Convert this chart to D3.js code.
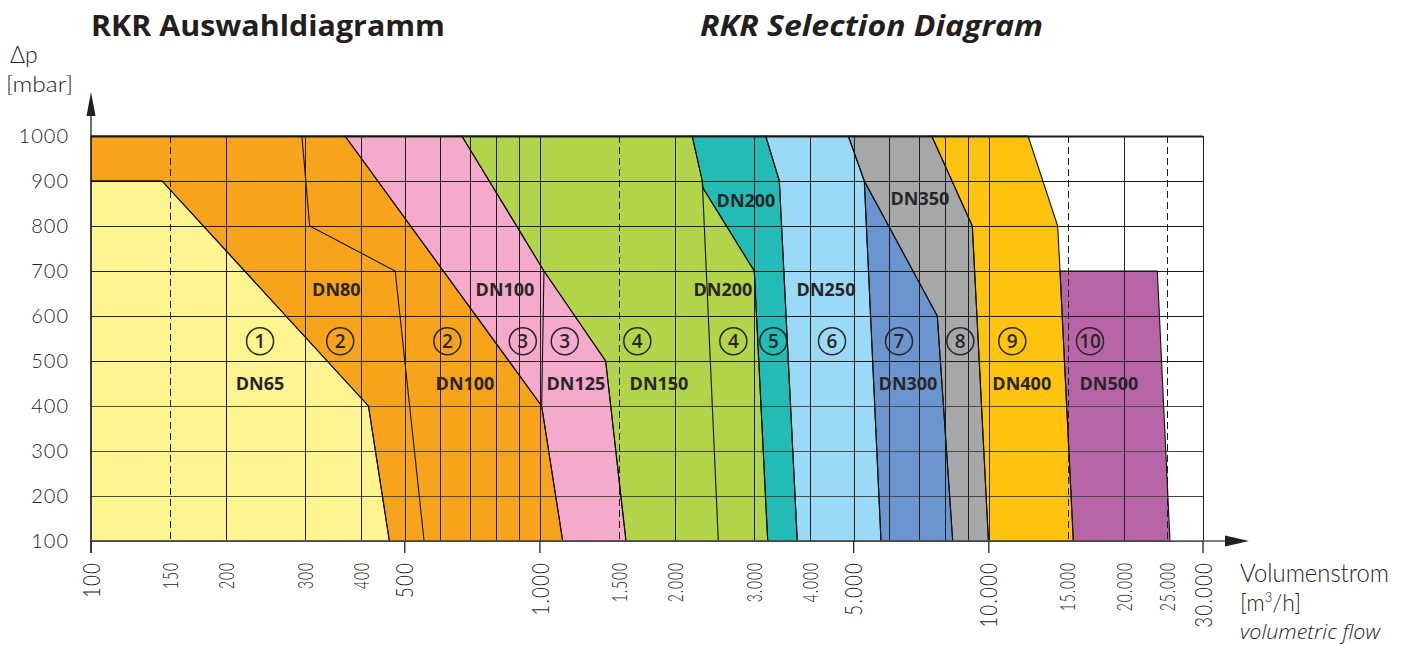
<!DOCTYPE html>
<html>
<head>
<meta charset="utf-8">
<script src="https://cdn.jsdelivr.net/npm/d3@7"></script>
<style>
  html, body { margin: 0; padding: 0; background: #ffffff; }
  svg { display: block; }
</style>
</head>
<body>
<svg id="chart" width="1406" height="646"></svg>
<script>
// ---------------- DATA ----------------
// Zones: polygons as [volumetric flow m3/h, pressure drop mbar]
const zone1DN65      = [[100,100],[100,900],[144,900],[415,400],[462,100]];
const zone2DN80DN100 = [[100,900],[100,1000],[368,1000],[1009,400],[1124,100],[462,100],[415,400],[144,900]];
const zone3DN100DN125= [[368,1000],[670,1000],[1021,700],[1401,500],[1555,100],[1124,100],[1009,400]];
const zone4DN150DN200= [[670,1000],[2184,1000],[2300,900],[2306,885],[3003,700],[3217,100],[1555,100],[1401,500],[1021,700]];
const zone5DN200     = [[2184,1000],[3184,1000],[3415,900],[3744,100],[3217,100],[3003,700],[2306,885],[2300,900]];
const zone6DN250     = [[3184,1000],[4864,1000],[5280,900],[5752,100],[3744,100],[3415,900]];
const zone7DN300     = [[5280,900],[7678,600],[8309,100],[5752,100]];
const zone8DN350     = [[4864,1000],[7460,1000],[9188,800],[9980,100],[8309,100],[7678,600],[5280,900]];
const zone9DN400     = [[7460,1000],[12230,1000],[14236,800],[14407,700],[15425,100],[9980,100],[9188,800]];
const zone10DN500    = [[14407,700],[23735,700],[25327,100],[15425,100]];

const zones = [zone1DN65, zone2DN80DN100, zone3DN100DN125, zone4DN150DN200, zone5DN200,
               zone6DN250, zone7DN300, zone8DN350, zone9DN400, zone10DN500];
const zoneColors = ["#fef591","#f8a31c","#f5aacc","#b2d44b","#22bbb6",
                    "#9bdaf6","#6b95cf","#a6a7a9","#fec30f","#b865a8"];

// Internal divider lines (nominal size changes inside a zone)
const dividerZone2 = [[295,1000],[307,800],[476,700],[552,100]];
const dividerZone3 = [[1021,700],[1009,400]];
const dividerZone4 = [[2300,900],[2497,100]];

// Nominal size labels
const dnLabelFlows = [238, 352, 836, 681, 1203, 1842, 2878, 2557, 4339, 6606, 7025, 11842, 18520];
const dnLabelDp    = [451, 658, 658, 451, 451, 451, 856, 658, 658, 451, 860, 451, 451];
const dnLabelTexts = ["DN65","DN80","DN100","DN100","DN125","DN150","DN200","DN200","DN250","DN300","DN350","DN400","DN500"];

// Zone numbers
const zoneNumFlows = [238, 359, 622, 916, 1136, 1648, 2697, 3311, 4474, 6308, 8639, 11280, 16806];
const zoneNumTexts = ["1","2","2","3","3","4","4","5","6","7","8","9","10"];
const zoneNumDp = 544;

// Axis ticks
const yTicks = [100,200,300,400,500,600,700,800,900,1000];
const xGrid = [150,200,300,400,500,600,700,800,900,1000,1500,2000,3000,4000,5000,6000,7000,8000,9000,10000,15000,20000,25000,30000];
const xDashed = [150,1500,15000,25000];
const xMajorTicks = [100,500,1000,5000,10000,30000];
const xTickValues = [100,150,200,300,400,500,1000,1500,2000,3000,4000,5000,10000,15000,20000,25000,30000];
const xTickLabels = ["100","150","200","300","400","500","1.000","1.500","2.000","3.000","4.000","5.000","10.000","15.000","20.000","25.000","30.000"];

// ---------------- DRAW ----------------
const svg = d3.select("#chart");
const x = d3.scaleLog().domain([100, 30000]).range([91, 1203]);
const y = d3.scaleLinear().domain([100, 1000]).range([541, 136]);
const ink = "#231f20";
const axisFont = "Lato, Roboto, 'DejaVu Sans', sans-serif";
const boldFont = "'Open Sans', 'Noto Sans', sans-serif";

const line = d3.line().x(d => x(d[0])).y(d => y(d[1]));

// fills
svg.append("g").selectAll("path").data(zones).join("path")
  .attr("d", d => line(d) + "Z")
  .attr("fill", (d, i) => zoneColors[i])
  .attr("stroke", "none");

// grid
const grid = svg.append("g").attr("stroke", "#1e1e1e").attr("stroke-width", 1).attr("fill", "none");
grid.selectAll("line.h").data(yTicks).join("line")
  .attr("x1", x(100)).attr("x2", x(30000))
  .attr("y1", d => Math.round(y(d)) + 0.5).attr("y2", d => Math.round(y(d)) + 0.5)
  .attr("stroke-width", d => d === 1000 ? 2 : 1)
  .attr("stroke", d => d <= 400 ? "#4a4a44" : "#1e1e1e");
grid.selectAll("line.v").data(xGrid).join("line")
  .attr("x1", d => Math.round(x(d)) + 0.5).attr("x2", d => Math.round(x(d)) + 0.5)
  .attr("y1", y(1000)).attr("y2", y(100))
  .attr("stroke-dasharray", d => xDashed.includes(d) ? "7,4" : null);

// zone outlines
svg.append("g").selectAll("path").data(zones).join("path")
  .attr("d", d => line(d) + "Z")
  .attr("fill", "none").attr("stroke", "#111").attr("stroke-width", 1.1)
  .attr("stroke-linejoin", "round");

// dividers
svg.append("g").selectAll("path").data([dividerZone2, dividerZone3, dividerZone4]).join("path")
  .attr("d", line).attr("fill", "none").attr("stroke", "#111").attr("stroke-width", 1.1);

// axes lines
const axes = svg.append("g").attr("stroke", ink).attr("stroke-width", 1.3);
axes.append("line").attr("x1", x(100)).attr("x2", x(100)).attr("y1", y(100) + 12).attr("y2", 112);
axes.append("line").attr("x1", x(100)).attr("x2", 1226).attr("y1", y(100)).attr("y2", y(100)).attr("stroke", "#555");
axes.selectAll("line.t").data(xMajorTicks).join("line")
  .attr("x1", d => x(d)).attr("x2", d => x(d)).attr("y1", y(100)).attr("y2", y(100) + 12);
// arrowheads
svg.append("path").attr("d", `M${x(100)},92 L${x(100)-4.5},116 L${x(100)+4.5},116 Z`).attr("fill", ink);
svg.append("path").attr("d", `M1249,${y(100)} L1225,${y(100)-5.5} L1225,${y(100)+5.5} Z`).attr("fill", ink);

// y tick labels
svg.append("g").selectAll("text").data(yTicks).join("text")
  .attr("x", 69).attr("y", d => y(d)).attr("dy", "0.36em")
  .attr("text-anchor", "end")
  .attr("font-family", axisFont).attr("font-weight", 300).attr("font-size", 20)
  .attr("letter-spacing", 1)
  .attr("fill", ink).text(d => d);

// x tick labels (rotated)
svg.append("g").selectAll("text").data(xTickValues).join("text")
  .attr("transform", d => {
    const major = xMajorTicks.includes(d);
    return `translate(${x(d)},562) rotate(-90) scale(${major ? 0.78 : 0.66},1)`;
  })
  .attr("dy", "0.36em")
  .attr("text-anchor", "end")
  .attr("font-family", axisFont).attr("font-weight", 300)
  .attr("font-size", d => xMajorTicks.includes(d) ? 24 : 21)
  .attr("letter-spacing", 1.5)
  .attr("fill", ink)
  .text((d, i) => xTickLabels[i]);

// axis titles
svg.append("text").attr("x", 10).attr("y", 63)
  .attr("font-family", axisFont).attr("font-weight", 300).attr("font-size", 23).attr("fill", ink)
  .text("Δp");
svg.append("text").attr("x", 6).attr("y", 92)
  .attr("font-family", axisFont).attr("font-weight", 300).attr("font-size", 22).attr("fill", ink)
  .attr("textLength", 67).attr("lengthAdjust", "spacingAndGlyphs")
  .text("[mbar]");
svg.append("text").attr("x", 1240).attr("y", 582)
  .attr("font-family", axisFont).attr("font-weight", 300).attr("font-size", 25).attr("fill", ink)
  .attr("textLength", 149).attr("lengthAdjust", "spacingAndGlyphs")
  .text("Volumenstrom");
const unit = svg.append("text").attr("x", 1240).attr("y", 611)
  .attr("font-family", axisFont).attr("font-weight", 300).attr("font-size", 23).attr("fill", ink);
unit.append("tspan").text("[m");
unit.append("tspan").attr("font-size", 13).attr("dy", -9).text("3");
unit.append("tspan").attr("dy", 9).text("/h]");
svg.append("text").attr("x", 1240).attr("y", 639)
  .attr("font-family", boldFont).attr("font-style", "italic").attr("font-weight", 300)
  .attr("font-size", 19.5).attr("fill", "#1e1e1e")
  .attr("textLength", 140).attr("lengthAdjust", "spacingAndGlyphs")
  .text("volumetric flow");

// titles
svg.append("text").attr("x", 91).attr("y", 36)
  .attr("font-family", boldFont).attr("font-weight", 700).attr("font-size", 28).attr("fill", ink)
  .attr("textLength", 354).attr("lengthAdjust", "spacingAndGlyphs")
  .text("RKR Auswahldiagramm");
svg.append("text").attr("x", 700).attr("y", 36)
  .attr("font-family", boldFont).attr("font-weight", 700).attr("font-style", "italic").attr("font-size", 28).attr("fill", ink)
  .attr("textLength", 343).attr("lengthAdjust", "spacingAndGlyphs")
  .text("RKR Selection Diagram");

// DN labels
svg.append("g").selectAll("text").data(dnLabelTexts).join("text")
  .attr("x", (d, i) => x(dnLabelFlows[i])).attr("y", (d, i) => y(dnLabelDp[i]))
  .attr("dy", "0.36em").attr("text-anchor", "middle")
  .attr("font-family", boldFont).attr("font-weight", 700).attr("font-size", 18).attr("fill", "#2a2627")
  .text(d => d);

// zone number circles
const nums = svg.append("g").selectAll("g").data(zoneNumTexts).join("g")
  .attr("transform", (d, i) => `translate(${x(zoneNumFlows[i])},${y(zoneNumDp)})`);
nums.append("circle").attr("r", 13.5).attr("fill", "none").attr("stroke", "#2a2627").attr("stroke-width", 1.5);
nums.append("text").attr("dy", "0.36em").attr("text-anchor", "middle")
  .attr("font-family", boldFont).attr("font-weight", 600).attr("font-size", 19).attr("fill", "#2a2627")
  .text(d => d);
</script>
</body>
</html>
